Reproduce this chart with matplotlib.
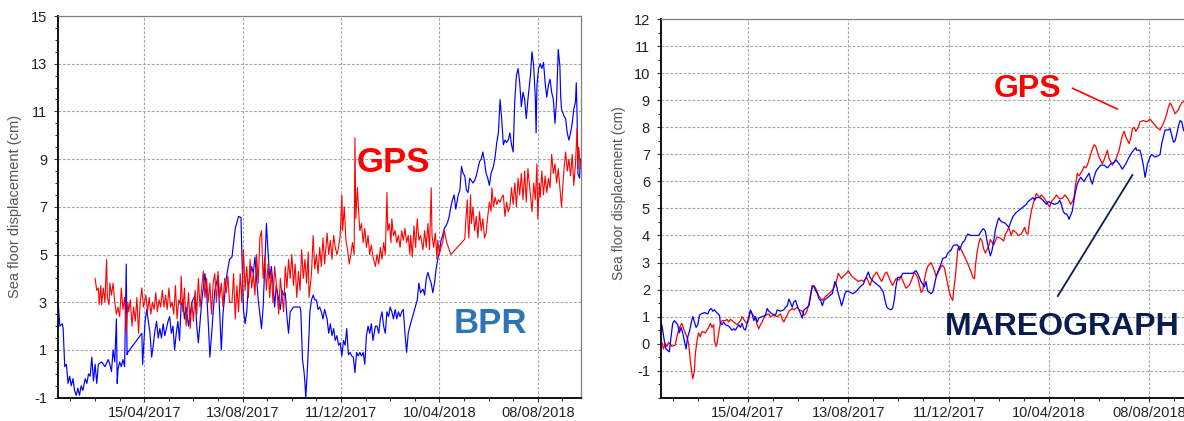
import numpy as np
import matplotlib
matplotlib.use("Agg")
import matplotlib.pyplot as plt
import matplotlib.dates as mdates
from matplotlib.ticker import FixedLocator, MultipleLocator
from matplotlib.lines import Line2D

plt.rcParams["font.family"] = ["Liberation Sans", "DejaVu Sans"]
plt.rcParams["axes.unicode_minus"] = False

# all series are given as days counted from this date
epoch = np.datetime64("2016-12-31")

# ---- left panel: GPS buoy vs bottom pressure recorder (cm)
bpr_days = [
    0, 2, 5, 6, 8, 10, 12, 14, 16, 18,
    20, 22, 24, 26, 28, 30, 33, 35, 37, 39,
    41, 43, 45, 47, 49, 53, 57, 61, 63, 65,
    67, 69, 71, 72, 73, 75, 77, 79, 81, 83,
    84, 85, 102, 103, 106, 108, 112, 114, 116, 118,
    120, 122, 124, 126, 128, 130, 132, 134, 136, 138,
    140, 142, 144, 146, 148, 150, 152, 154, 156, 159,
    163, 167, 169, 171, 175, 179, 181, 184, 185, 187,
    191, 195, 197, 199, 201, 205, 209, 212, 216, 220,
    223, 224, 226, 228, 230, 232, 236, 238, 240, 242,
    244, 248, 250, 252, 254, 256, 258, 260, 262, 264,
    266, 269, 271, 273, 275, 277, 279, 281, 283, 285,
    287, 291, 295, 296, 298, 300, 301, 302, 304, 306,
    307, 309, 311, 313, 315, 317, 319, 321, 323, 325,
    328, 330, 332, 334, 336, 338, 340, 342, 344, 346,
    348, 350, 352, 354, 356, 358, 360, 362, 364, 366,
    368, 370, 372, 374, 376, 378, 380, 382, 384, 387,
    389, 391, 393, 395, 397, 399, 401, 403, 405, 407,
    409, 411, 413, 415, 417, 419, 421, 423, 425, 427,
    429, 438, 440, 442, 445, 447, 449, 451, 453, 455,
    457, 459, 461, 463, 465, 467, 469, 471, 473, 475,
    477, 479, 481, 483, 485, 488, 490, 492, 494, 496,
    498, 500, 502, 504, 506, 508, 510, 512, 514, 516,
    518, 520, 522, 524, 526, 528, 531, 533, 535, 537,
    539, 541, 543, 545, 547, 549, 551, 553, 555, 557,
    559, 561, 563, 565, 567, 569, 571, 573, 576, 578,
    580, 582, 583, 584, 586, 588, 590, 592, 594, 596,
    598, 600, 602, 604, 606, 608, 610, 612, 613, 614,
    617, 619, 621, 623, 625, 627, 629, 631, 632, 633,
    634, 636, 637,
]
bpr_cm = [
    3.0, 2.0, 2.1, 1.9, 0.3, 0.4, -0.4, -0.1, -0.5, -0.2,
    -0.7, -0.9, -0.6, -0.9, -0.5, -0.7, -0.2, -0.4, 0.0, -0.1,
    0.7, -0.3, 0.4, -0.4, 0.4, 0.5, 0.3, 0.6, 0.4, 0.1,
    1.0, 0.5, 2.3, -0.4, 0.2, 0.5, 0.3, 0.6, 0.3, 4.6,
    0.8, 0.9, 1.7, 0.4, 2.2, 2.7, 1.7, 0.7, 1.2, 1.8,
    2.2, 1.5, 1.9, 1.5, 2.1, 1.6, 1.9, 2.2, 2.4, 1.7,
    2.0, 1.0, 1.7, 2.2, 1.4, 2.9, 3.1, 2.3, 2.8, 2.0,
    3.0, 3.3, 2.0, 1.3, 3.0, 4.2, 3.5, 1.5, 0.7, 1.6,
    3.5, 4.1, 2.5, 1.0, 2.5, 4.0, 4.8, 4.9, 6.1, 6.6,
    6.55, 5.1, 2.7, 2.1, 2.6, 3.7, 4.5, 4.2, 4.9, 4.0,
    3.1, 1.9, 2.8, 4.5, 6.3, 5.1, 4.0, 4.5, 3.8, 2.8,
    3.7, 3.1, 2.7, 3.5, 3.3, 3.4, 2.4, 1.7, 2.6, 2.7,
    2.8, 2.8, 2.8, 2.6, 0.6, 0.05, -0.4, -1.0, 0.2, 1.7,
    2.6, 3.1, 3.3, 3.1, 3.1, 2.7, 2.8, 2.6, 2.3, 2.7,
    2.3, 1.7, 2.1, 1.6, 1.9, 1.4, 1.6, 1.2, 1.3, 0.75,
    1.4, 1.2, 1.9, 0.8, 0.9, 0.75, 0.7, 0.05, 0.9, 0.75,
    0.9, 0.75, 0.9, 0.4, 1.6, 2.0, 1.7, 2.1, 1.4, 2.0,
    2.0, 1.7, 2.3, 2.6, 2.0, 1.7, 2.6, 2.4, 2.8, 2.6,
    2.3, 2.7, 2.3, 2.6, 2.4, 2.6, 2.7, 1.7, 0.9, 1.7,
    2.0, 3.1, 3.8, 3.4, 3.55, 3.3, 4.0, 4.25, 4.0, 3.8,
    3.4, 3.8, 4.4, 4.8, 5.1, 5.6, 5.8, 6.1, 6.2, 6.35,
    6.6, 7.0, 7.3, 7.5, 6.9, 7.5, 7.7, 8.7, 8.4, 8.3,
    7.7, 7.6, 8.2, 8.1, 8.0, 8.1, 8.3, 8.6, 8.9, 9.0,
    9.3, 8.9, 8.4, 8.2, 7.9, 8.4, 8.7, 9.1, 9.7, 10.1,
    11.5, 10.7, 9.6, 9.8, 9.7, 9.8, 10.1, 9.6, 9.3, 11.5,
    12.5, 12.8, 12.2, 11.2, 11.8, 11.5, 10.7, 11.5, 12.5, 13.5,
    12.9, 11.6, 10.1, 12.1, 12.8, 13.0, 12.8, 13.05, 12.2, 11.6,
    12.1, 12.35, 11.8, 11.5, 10.5, 11.5, 13.6, 12.9, 11.6, 11.1,
    10.8, 10.7, 10.1, 9.8, 10.1, 10.5, 11.1, 11.4, 12.2, 10.8,
    8.4, 8.2, 9.0,
]

gps_days = [
    45, 47, 49, 50, 52, 53, 55, 57, 59, 60,
    62, 63, 65, 67, 69, 71, 73, 75, 77, 79,
    81, 83, 85, 86, 88, 90, 92, 94, 96, 98,
    100, 102, 104, 107, 109, 111, 113, 115, 117, 119,
    121, 123, 125, 127, 129, 131, 133, 135, 137, 139,
    141, 143, 145, 147, 149, 150, 152, 154, 156, 159,
    161, 163, 165, 167, 169, 171, 173, 175, 177, 179,
    181, 183, 185, 187, 189, 191, 193, 195, 197, 199,
    201, 203, 205, 207, 209, 212, 214, 216, 218, 220,
    222, 224, 226, 228, 230, 232, 234, 236, 238, 240,
    242, 244, 246, 248, 250, 252, 254, 256, 258, 260,
    262, 264, 266, 269, 271, 273, 275, 277, 279, 281,
    283, 285, 287, 289, 291, 293, 295, 297, 299, 301,
    303, 305, 306, 309, 311, 313, 315, 317, 319, 321,
    323, 325, 328, 330, 332, 334, 336, 338, 340, 342,
    344, 346, 347, 349, 351, 353, 355, 357, 359, 361,
    362, 363, 365, 367, 368, 370, 372, 374, 376, 378,
    380, 382, 384, 387, 389, 391, 393, 395, 397, 399,
    401, 402, 404, 406, 407, 409, 411, 413, 415, 417,
    419, 421, 423, 425, 427, 429, 430, 432, 434, 436,
    438, 440, 442, 445, 447, 449, 451, 453, 455, 456,
    458, 460, 462, 463, 465, 467, 469, 471, 474, 479,
    496, 497, 499, 500, 501, 503, 504, 506, 508, 510,
    512, 514, 516, 518, 520, 522, 524, 526, 528, 529,
    531, 533, 535, 537, 539, 541, 543, 545, 547, 549,
    551, 553, 555, 557, 559, 561, 563, 565, 567, 569,
    571, 573, 576, 578, 580, 582, 584, 585, 587, 588,
    590, 592, 594, 596, 598, 600, 602, 604, 606, 608,
    610, 612, 614, 617, 619, 621, 623, 625, 627, 629,
    631, 633, 634, 635, 637,
]
gps_cm = [
    4.0, 3.5, 3.6, 2.9, 3.7, 2.9, 3.6, 3.0, 4.8, 3.2,
    2.9, 3.8, 3.3, 3.8, 3.0, 2.5, 2.8, 2.4, 3.6, 2.7,
    3.2, 1.7, 3.0, 2.6, 3.1, 2.0, 2.8, 2.2, 3.2, 1.7,
    3.0, 3.6, 2.8, 3.3, 2.6, 3.2, 2.5, 3.0, 2.7, 3.4,
    2.6, 3.1, 2.8, 3.5, 2.8, 3.3, 2.7, 3.6, 2.8, 3.0,
    2.5, 3.7, 2.3, 3.1, 2.9, 4.1, 2.6, 3.6, 2.0, 3.4,
    1.9, 3.0, 2.2, 3.5, 2.5, 4.0, 2.8, 3.6, 4.3, 3.2,
    4.0, 3.0, 3.8, 2.5, 3.8, 4.2, 3.0, 4.3, 3.2, 3.8,
    2.8, 4.0, 3.4, 4.1, 3.0, 3.0, 4.2, 2.3, 3.7, 2.6,
    4.2, 3.0, 5.2, 3.5, 4.5, 3.2, 4.8, 3.6, 4.2, 3.3,
    5.0, 3.8, 5.7, 6.0, 4.0, 4.9, 3.5, 4.6, 3.2, 4.3,
    3.0, 4.5, 3.8, 2.5, 4.0, 3.3, 2.6, 4.5, 3.6, 4.8,
    4.0, 5.0, 3.7, 4.6, 3.2, 4.3, 3.5, 5.2, 4.0, 4.8,
    3.8, 5.1, 3.2, 4.2, 5.8, 4.4, 5.0, 4.2, 5.3, 4.5,
    5.7, 4.6, 5.9, 5.0, 5.6, 4.8, 5.8, 5.3, 5.0, 5.3,
    5.8, 7.5, 6.0, 7.0, 5.6, 5.2, 4.6, 5.0, 5.5, 5.0,
    9.9, 6.5, 7.8, 6.5, 6.0, 6.3, 5.5, 6.1, 5.3, 5.8,
    5.0, 5.4, 4.9, 4.5, 5.0, 4.6, 5.3, 4.8, 5.5, 5.0,
    7.6, 6.0, 6.3, 5.5, 6.5, 5.8, 6.0, 5.5, 5.8, 5.3,
    6.0, 5.6, 6.1, 5.5, 5.8, 5.0, 5.8, 4.9, 6.2, 5.3,
    6.5, 5.6, 5.8, 5.2, 6.0, 5.3, 6.3, 5.2, 7.8, 5.8,
    5.3, 5.9, 4.8, 5.6, 5.0, 5.3, 5.5, 6.0, 5.5, 5.0,
    5.65, 6.3, 7.3, 6.2, 5.7, 7.5, 6.3, 7.0, 6.0, 6.6,
    5.7, 6.8, 6.0, 6.5, 5.7, 5.9, 6.6, 7.2, 6.8, 7.8,
    7.0, 7.4, 7.1, 7.3, 7.2, 7.4, 7.5, 6.6, 7.2, 6.8,
    7.0, 7.8, 7.1, 8.0, 7.0, 8.2, 7.5, 8.4, 7.3, 8.5,
    7.2, 8.6, 7.5, 6.8, 8.0, 7.3, 8.8, 6.5, 8.0, 7.4,
    8.5, 7.5, 8.3, 7.6, 8.2, 7.8, 9.2, 8.4, 8.8, 8.0,
    8.6, 7.8, 7.0, 8.6, 9.3, 8.5, 9.0, 8.3, 9.2, 7.9,
    8.8, 10.3, 8.6, 9.5, 8.6,
]

# ---- right panel: GPS vs tide gauge (cm)
gps_tg_days = [
    1, 2, 4, 6, 8, 10, 14, 18, 20, 22,
    24, 26, 28, 30, 32, 34, 36, 38, 39, 41,
    42, 44, 46, 48, 50, 54, 58, 60, 62, 64,
    65, 67, 68, 70, 72, 74, 78, 80, 82, 84,
    88, 92, 96, 98, 102, 104, 106, 108, 110, 114,
    116, 118, 120, 122, 124, 126, 130, 132, 136, 140,
    144, 146, 148, 150, 152, 154, 158, 160, 164, 166,
    170, 172, 174, 176, 178, 180, 182, 184, 186, 188,
    190, 194, 198, 202, 206, 210, 213, 217, 219, 223,
    225, 229, 233, 237, 241, 243, 247, 251, 255, 259,
    263, 265, 269, 271, 275, 278, 282, 286, 288, 292,
    294, 298, 302, 304, 308, 310, 312, 314, 316, 318,
    320, 324, 326, 328, 330, 332, 336, 338, 340, 342,
    344, 346, 348, 350, 351, 353, 355, 356, 358, 362,
    366, 368, 370, 372, 374, 376, 377, 379, 381, 383,
    385, 387, 389, 393, 395, 399, 403, 407, 411, 413,
    415, 417, 420, 422, 426, 428, 432, 436, 438, 440,
    442, 444, 446, 448, 450, 454, 456, 460, 464, 466,
    468, 472, 474, 478, 482, 484, 488, 491, 493, 495,
    497, 499, 501, 505, 507, 509, 511, 513, 515, 517,
    519, 521, 523, 525, 529, 531, 535, 537, 541, 545,
    549, 551, 553, 555, 557, 561, 563, 565, 567, 569,
    572, 574, 578, 582, 586, 590, 594, 598, 602, 604,
    606, 608, 610, 612, 614, 616, 620, 622, 624, 626,
    630,
]
gps_tg_cm = [
    0.0, 0.05, -0.2, 0.0, -0.1, 0.05, -0.1, -0.05, 0.25, 0.5,
    0.65, 0.75, 0.55, 0.4, 0.25, 0.0, -0.6, -1.1, -1.3, -1.0,
    -0.4, 0.1, 0.4, 0.25, 0.45, 0.4, 0.6, 0.75, 0.6, 0.7,
    0.1, -0.1, 0.0, 0.4, 0.75, 0.85, 0.85, 0.9, 0.8, 0.9,
    0.8, 0.7, 0.85, 1.0, 0.8, 0.75, 0.9, 1.2, 1.1, 0.95,
    0.7, 0.55, 0.7, 0.8, 0.95, 1.05, 1.1, 1.0, 1.05, 1.0,
    1.1, 0.9, 0.8, 0.95, 1.05, 1.2, 1.3, 1.25, 1.35, 1.25,
    1.2, 1.05, 1.1, 1.25, 1.5, 1.85, 2.1, 2.15, 2.05, 1.9,
    1.75, 1.6, 1.75, 1.85, 1.97, 2.2, 2.6, 2.4, 2.5, 2.6,
    2.7, 2.5, 2.4, 2.3, 2.35, 2.3, 2.45, 2.15, 2.5, 2.65,
    2.4, 2.3, 2.6, 2.65, 2.35, 2.15, 2.4, 2.35, 2.5, 2.2,
    2.05, 2.15, 2.45, 2.65, 2.45, 2.2, 1.9, 1.95, 2.35, 2.65,
    2.85, 3.0, 2.85, 2.7, 2.5, 2.6, 2.85, 2.9, 2.8, 2.5,
    2.2, 1.9, 1.7, 1.6, 1.95, 2.45, 3.1, 3.5, 3.6, 3.35,
    3.1, 2.95, 2.8, 2.65, 2.45, 2.4, 2.85, 3.35, 3.7, 3.9,
    3.8, 3.5, 3.35, 3.6, 3.85, 3.65, 3.95, 3.9, 3.8, 4.05,
    4.15, 4.3, 4.0, 4.2, 4.1, 4.0, 4.05, 4.3, 4.1, 4.05,
    4.55, 4.9, 5.15, 5.35, 5.55, 5.4, 5.5, 5.35, 5.15, 5.05,
    5.25, 5.4, 5.5, 5.35, 5.4, 5.5, 5.35, 5.15, 5.25, 5.4,
    5.9, 6.3, 6.2, 6.4, 6.55, 6.5, 6.6, 6.8, 7.0, 7.2,
    7.35, 7.3, 7.1, 6.9, 6.65, 6.8, 7.15, 6.85, 6.6, 6.8,
    7.15, 7.45, 7.7, 7.85, 7.65, 7.4, 7.6, 7.95, 8.0, 7.85,
    8.0, 8.2, 8.25, 8.2, 8.3, 8.15, 8.0, 7.9, 8.15, 8.3,
    8.5, 8.75, 8.9, 8.8, 8.65, 8.5, 8.65, 8.8, 8.9, 8.95,
    9.0,
]

mareo_days = [
    2, 5, 7, 11, 13, 15, 17, 21, 23, 25,
    27, 29, 31, 33, 35, 37, 39, 41, 43, 45,
    47, 49, 53, 57, 59, 61, 63, 65, 69, 71,
    72, 74, 76, 78, 82, 86, 88, 90, 94, 96,
    98, 100, 102, 104, 106, 108, 110, 112, 114, 116,
    118, 122, 126, 128, 130, 134, 138, 140, 144, 148,
    150, 152, 154, 156, 158, 160, 162, 164, 166, 170,
    172, 176, 178, 180, 182, 184, 186, 188, 190, 192,
    194, 196, 198, 202, 206, 209, 211, 213, 215, 217,
    219, 221, 223, 227, 231, 235, 239, 243, 245, 247,
    249, 251, 255, 259, 263, 267, 269, 271, 273, 276,
    278, 280, 282, 284, 288, 290, 294, 298, 302, 306,
    308, 310, 312, 316, 318, 320, 324, 326, 328, 330,
    332, 334, 336, 338, 342, 344, 348, 350, 352, 356,
    358, 360, 362, 364, 366, 368, 372, 377, 381, 385,
    387, 389, 391, 393, 395, 397, 399, 401, 403, 405,
    407, 409, 413, 417, 422, 426, 430, 434, 438, 440,
    444, 446, 448, 450, 454, 458, 462, 464, 468, 472,
    476, 478, 480, 482, 484, 486, 488, 489, 491, 493,
    495, 497, 499, 501, 503, 507, 511, 513, 515, 517,
    519, 521, 523, 527, 531, 535, 539, 543, 545, 549,
    553, 557, 561, 565, 569, 570, 574, 576, 578, 580,
    581, 583, 586, 588, 592, 596, 598, 600, 602, 604,
    608, 610, 612, 614, 616, 618, 620, 622, 624, 626,
    630,
]
mareo_cm = [
    0.7, 0.1, -0.2, -0.3, 0.25, 0.75, 0.85, 0.7, 0.4, 0.6,
    0.4, 0.1, -0.2, 0.25, 0.45, 0.75, 1.0, 0.8, 0.6, 0.7,
    1.05, 1.1, 1.15, 1.1, 1.25, 1.3, 1.2, 1.25, 1.1, 1.05,
    0.75, 0.7, 0.8, 0.7, 0.65, 0.5, 0.55, 0.5, 0.7, 0.6,
    0.75, 0.55, 0.5, 0.75, 1.0, 1.25, 1.1, 0.85, 1.0, 0.8,
    0.95, 1.0, 1.05, 1.3, 1.2, 1.1, 1.05, 1.25, 1.2, 1.25,
    1.35, 1.4, 1.65, 1.5, 1.35, 1.55, 1.6, 1.4, 1.25, 0.95,
    1.25, 1.35, 1.4, 1.75, 2.15, 2.1, 1.97, 1.85, 1.65, 1.6,
    1.4, 1.6, 1.65, 1.75, 1.85, 2.3, 2.15, 1.85, 1.65, 1.4,
    1.6, 1.85, 1.95, 1.9, 1.85, 1.95, 2.1, 2.2, 2.35, 2.5,
    2.65, 2.45, 2.3, 2.2, 2.1, 1.9, 1.6, 1.35, 1.3, 1.25,
    1.3, 1.6, 2.1, 2.45, 2.45, 2.6, 2.6, 2.6, 2.6, 2.7,
    2.6, 2.45, 2.3, 2.1, 2.3, 1.95, 1.85, 1.9, 2.15, 2.45,
    2.65, 2.8, 2.95, 3.15, 3.2, 3.35, 3.45, 3.6, 3.65, 3.65,
    3.45, 3.6, 3.75, 3.8, 3.95, 4.05, 4.0, 4.0, 4.0, 4.2,
    4.25, 4.15, 3.8, 3.5, 3.25, 3.45, 3.8, 4.2, 4.45, 4.65,
    4.55, 4.5, 4.45, 4.3, 4.7, 4.85, 4.95, 5.05, 5.15, 5.25,
    5.35, 5.4, 5.3, 5.4, 5.4, 5.3, 5.15, 5.25, 5.2, 5.15,
    5.2, 5.3, 5.15, 4.9, 4.8, 4.8, 4.7, 4.6, 4.75, 4.9,
    5.3, 5.65, 5.9, 6.05, 6.15, 6.0, 6.2, 6.3, 6.05, 5.9,
    6.15, 6.35, 6.45, 6.6, 6.6, 6.5, 6.65, 6.7, 6.8, 6.65,
    6.45, 6.65, 6.9, 7.1, 7.25, 7.15, 7.15, 6.9, 6.6, 6.15,
    6.3, 6.65, 6.9, 7.0, 6.9, 6.95, 7.0, 7.4, 7.65, 7.9,
    7.9, 7.95, 7.7, 7.45, 7.5, 7.75, 8.05, 8.25, 8.2, 7.9,
    7.7,
]

tick_dates = ["2017-04-15", "2017-08-13", "2017-12-11", "2018-04-10", "2018-08-08"]
ylabel = "Sea floor displacement (cm)"


def to_dates(days):
    return epoch + np.array(days, dtype="timedelta64[D]")


def setup_axes(ax, ylo, yhi, yticks, xstart):
    ax.set_xlim(epoch + np.timedelta64(xstart, "D"), epoch + np.timedelta64(638, "D"))
    ax.set_ylim(ylo, yhi)
    majors = [mdates.date2num(np.datetime64(d)) for d in tick_dates]
    minors = [majors[0] + 30 * k for k in range(-3, 18)]
    ax.xaxis.set_major_locator(FixedLocator(majors))
    ax.xaxis.set_minor_locator(FixedLocator(minors))
    ax.xaxis.set_major_formatter(mdates.DateFormatter("%d/%m/%Y"))
    ax.yaxis.set_major_locator(FixedLocator(yticks))
    ax.yaxis.set_minor_locator(MultipleLocator(0.5))
    ax.grid(True, which="major", color="#a8a8a8", linestyle=(0, (2.5, 1.5)), linewidth=0.8)
    ax.set_axisbelow(True)
    for side in ("left", "bottom"):
        ax.spines[side].set_linewidth(1.4)
        ax.spines[side].set_color("#111111")
    for side in ("top", "right"):
        ax.spines[side].set_linewidth(0.9)
        ax.spines[side].set_color("#808080")
    ax.tick_params(which="both", direction="out", color="#333333", width=0.8,
                   labelcolor="#222222", labelsize=10.5)
    ax.tick_params(which="major", length=3)
    ax.tick_params(which="minor", length=2.5)
    ax.tick_params(axis="x", which="major", pad=3)
    ax.tick_params(axis="y", which="major", pad=5)


fig = plt.figure(figsize=(11.84, 4.21), dpi=100)

# left: GPS and BPR
ax1 = fig.add_axes([58.2 / 1184, 23.3 / 421, 523 / 1184, 381.7 / 421])
ax1.plot(to_dates(bpr_days), bpr_cm, color="#0000ff", lw=0.85)
ax1.plot(to_dates(gps_days), gps_cm, color="#ff0000", lw=0.8)
setup_axes(ax1, -1, 15, np.arange(-1, 16, 2), 0)
ax1.set_ylabel(ylabel, fontsize=10.5, color="#555555")
ax1.yaxis.set_label_coords(-0.069, 0.5)
ax1.text(0.64, 0.591, "GPS", transform=ax1.transAxes, ha="center", va="baseline",
         fontsize=25, fontweight="bold", color="#ff0000")
ax1.text(0.826, 0.1695, "BPR", transform=ax1.transAxes, ha="center", va="baseline",
         fontsize=25, fontweight="bold", color="#2e75b6")

# right: GPS and tide gauge, the frame runs past the figure edge
ax2 = fig.add_axes([661 / 1184, 23.25 / 421, 532.5 / 1184, 378.65 / 421])
ax2.plot(to_dates(gps_tg_days), gps_tg_cm, color="#ff0000", lw=0.9)
ax2.plot(to_dates(mareo_days), mareo_cm, color="#0000ff", lw=0.9)
setup_axes(ax2, -2, 12, np.arange(-1, 13, 1), 1)
ax2.set_ylabel(ylabel, fontsize=10, color="#555555")
ax2.yaxis.set_label_coords(-0.066, 0.54)
ax2.text(0.689, 0.7943, "GPS", transform=ax2.transAxes, ha="center", va="baseline",
         fontsize=23, fontweight="bold", color="#ff0000")
ax2.text(0.754, 0.1657, "MAREOGRAPH", transform=ax2.transAxes, ha="center", va="baseline",
         fontsize=23, fontweight="bold", color="#0b1c4f")
ax2.add_line(Line2D([0.7731, 0.8569], [0.8172, 0.7625], transform=ax2.transAxes,
                    color="#ff0000", lw=1.2))
ax2.add_line(Line2D([0.7452, 0.8853], [0.2687, 0.5883], transform=ax2.transAxes,
                    color="#0b1c4f", lw=1.3))

fig.savefig("out.png", dpi=100)
